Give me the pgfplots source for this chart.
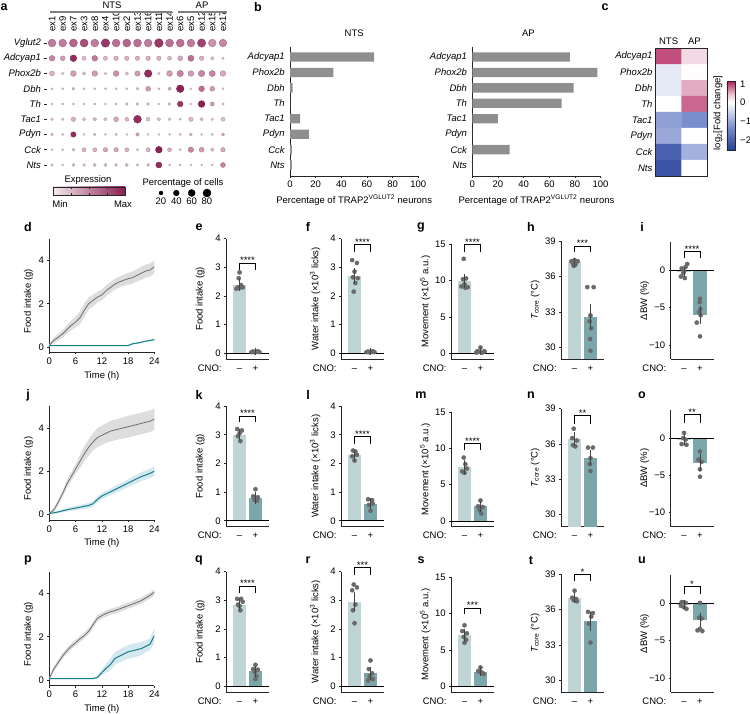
\documentclass[border=0pt]{standalone}
\usepackage{fontspec}
\setmainfont{Liberation Sans}
\usepackage{pgfplots}
\pgfplotsset{compat=1.18}
\usepackage{pgfplotstable}

\newcommand{\fs}{\fontsize{9.5}{11}\selectfont}
\newcommand{\lett}{\fontsize{12.5}{13}\selectfont\bfseries}

\definecolor{negc}{HTML}{BED4D5}
\definecolor{posc}{HTML}{7BA7AA}
\definecolor{dotc}{HTML}{6A6A6A}
\definecolor{errc}{HTML}{444444}
\definecolor{linegray}{HTML}{6E6E6E}
\definecolor{bandgray}{HTML}{DDDDDD}
\definecolor{tealc}{HTML}{15808A}
\definecolor{bandblue}{HTML}{D5E8EF}
\definecolor{bargray}{HTML}{8F8F8F}
\definecolor{brgray}{HTML}{808080}
\definecolor{expLow}{HTML}{F3ECEF}
\definecolor{expHigh}{HTML}{8B1E50}

\pgfplotsset{
 base/.style={scale only axis, clip mode=individual, axis x line*=bottom, axis y line*=left,
   axis line style={black!85, line width=0.65pt}, tick style={black!85, line width=0.55pt},
   major tick length=2pt, tick align=outside, tick label style={font=\fs}, label style={font=\fs},
   /pgf/number format/assume math mode=true},
 bp/.style={base, anchor=south west, width=43pt, xmin=0.15, xmax=2.85, xtick={1,2}, xticklabels={--,+},
   xtick style={draw=none}, xticklabel style={text height=0.72em, text depth=0.2em},
   ylabel style={at={(axis description cs:-0.6,0.5)}, anchor=center}},
 negbar/.style={ybar, bar width=13.3pt, bar shift=0pt, fill=negc, draw=none},
 posbar/.style={ybar, bar width=13.3pt, bar shift=0pt, fill=posc, draw=none},
 dots/.style={only marks, mark=*, mark size=2.1pt, color=dotc},
 err/.style={mark=none, draw=none, error bars/.cd, y dir=both, y explicit,
   error bar style={draw=errc, line width=0.6pt}, error mark options={draw=errc, mark size=3.3pt, line width=0.6pt}},
 lp/.style={base, anchor=south west, width=105pt, height=113.9pt, xmin=0, xmax=24, ymin=-0.25, ymax=5,
   xtick={0,6,12,18,24}, ytick={0,2,4}, xlabel={Time (h)}, ylabel={Food intake (g)},
   ylabel style={at={(axis description cs:-0.2,0.45)}, anchor=center}},
 bpan/.style={base, anchor=south west, width=128.3pt, height=129pt, xmin=0, xmax=100, ymin=0.29, ymax=8.648,
   xtick={0,20,...,100}, ytick={1,...,8}, yticklabels={Nts,Cck,Pdyn,Tac1,Th,Dbh,Phox2b,Adcyap1},
   yticklabel style={font=\fs\itshape}, ytick style={draw=none},
   xlabel={Percentage of TRAP2\textsuperscript{VGLUT2} neurons}},
 hbar/.style={xbar, bar width=9.3pt, bar shift=0pt, fill=bargray, draw=none},
 gband/.style={fill=bandgray, draw=none},
 cband/.style={fill=bandblue, draw=none},
 gline/.style={linegray, line width=0.8pt},
 cline/.style={tealc, line width=1pt}
}

\newcommand{\sig}[3]{\draw[black, line width=0.6pt] (axis cs:1,#1) |- (axis cs:2,#2) -- (axis cs:2,#1);
  \node[anchor=base, inner sep=0pt, font=\fs, yshift=-1pt] at (axis cs:1.5,#2) {#3};}
\newcommand{\cno}{\node[anchor=north east, font=\fs, text height=0.72em, text depth=0.2em, inner sep=0.333em, xshift=-1pt, yshift=-2pt] at (rel axis cs:0,0) {CNO:};}
\newcommand{\zline}{\draw[black, line width=0.6pt] (axis cs:0.15,0) -- (axis cs:2.85,0);}

\pgfplotstableread{
x y p c
1 1 75 0.55
2 1 75 0.55
3 1 80 0.65
4 1 80 0.75
5 1 75 0.55
6 1 88 0.85
7 1 75 0.60
8 1 78 0.65
9 1 78 0.60
10 1 75 0.55
11 1 92 0.85
12 1 78 0.60
13 1 78 0.60
14 1 75 0.55
15 1 85 0.80
16 1 72 0.45
17 1 72 0.50
1 2 40 0.50
2 2 30 0.40
3 2 55 0.90
4 2 20 0.25
5 2 40 0.55
6 2 22 0.25
7 2 25 0.30
8 2 25 0.30
9 2 25 0.30
10 2 25 0.30
11 2 25 0.30
12 2 20 0.25
13 2 30 0.35
14 2 45 0.60
15 2 25 0.30
16 2 15 0.20
17 2 8 0.10
1 3 30 0.30
2 3 10 0.15
3 3 40 0.40
4 3 15 0.20
5 3 40 0.40
6 3 10 0.10
7 3 40 0.45
8 3 15 0.20
9 3 35 0.40
10 3 70 0.90
11 3 8 0.10
12 3 40 0.40
13 3 50 0.50
14 3 40 0.40
15 3 50 0.50
16 3 45 0.50
17 3 40 0.35
1 4 5 0.10
2 4 5 0.10
3 4 10 0.20
4 4 6 0.10
5 4 6 0.10
6 4 6 0.10
7 4 6 0.10
8 4 6 0.10
9 4 10 0.15
10 4 30 0.40
11 4 6 0.10
12 4 15 0.30
13 4 70 0.95
14 4 5 0.10
15 4 40 0.60
16 4 30 0.40
17 4 6 0.10
1 5 5 0.10
2 5 5 0.10
3 5 6 0.10
4 5 5 0.10
5 5 5 0.10
6 5 5 0.10
7 5 8 0.15
8 5 10 0.20
9 5 8 0.15
10 5 10 0.20
11 5 5 0.10
12 5 8 0.15
13 5 40 0.85
14 5 5 0.10
15 5 55 0.95
16 5 20 0.40
17 5 8 0.15
1 6 10 0.15
2 6 8 0.10
3 6 25 0.30
4 6 15 0.20
5 6 15 0.20
6 6 15 0.20
7 6 30 0.35
8 6 20 0.25
9 6 75 0.90
10 6 20 0.20
11 6 15 0.20
12 6 10 0.15
13 6 5 0.10
14 6 25 0.25
15 6 15 0.20
16 6 10 0.10
17 6 20 0.20
1 7 8 0.15
2 7 5 0.10
3 7 35 0.90
4 7 5 0.10
5 7 8 0.15
6 7 5 0.10
7 7 8 0.15
8 7 5 0.10
9 7 15 0.35
10 7 5 0.10
11 7 5 0.10
12 7 5 0.10
13 7 5 0.10
14 7 10 0.25
15 7 5 0.10
16 7 5 0.10
17 7 12 0.30
1 8 5 0.10
2 8 5 0.10
3 8 12 0.20
4 8 20 0.30
5 8 20 0.30
6 8 25 0.35
7 8 25 0.35
8 8 20 0.30
9 8 5 0.10
10 8 20 0.30
11 8 55 0.95
12 8 20 0.30
13 8 5 0.10
14 8 35 0.50
15 8 30 0.40
16 8 15 0.20
17 8 25 0.35
1 9 10 0.15
2 9 5 0.10
3 9 12 0.20
4 9 10 0.15
5 9 12 0.20
6 9 12 0.20
7 9 12 0.20
8 9 12 0.20
9 9 10 0.15
10 9 12 0.20
11 9 45 0.90
12 9 5 0.10
13 9 5 0.10
14 9 5 0.10
15 9 5 0.10
16 9 5 0.10
17 9 30 0.50
}\dottab

\pgfplotstableread{
t g c
0 0.08 0.07
1 0.30 0.07
2 0.45 0.07
3 0.60 0.07
4 0.80 0.07
5 1.00 0.07
6 1.15 0.07
7 1.35 0.07
8 1.70 0.07
9 2.00 0.07
10 2.15 0.07
11 2.30 0.07
12 2.40 0.07
13 2.60 0.07
14 2.75 0.07
15 2.90 0.07
16 3.00 0.07
17 3.08 0.07
18 3.15 0.07
19 3.20 0.15
20 3.30 0.18
21 3.40 0.22
22 3.50 0.27
23 3.55 0.30
24 3.70 0.35
}\dtab

\pgfplotstableread{
t g c
0 0.05 0.05
1 0.20 0.08
2 0.55 0.12
3 0.95 0.17
4 1.40 0.22
5 1.75 0.26
6 2.10 0.30
7 2.45 0.34
8 2.80 0.38
9 3.10 0.42
10 3.35 0.50
11 3.55 0.70
12 3.65 0.85
13 3.75 0.95
14 3.85 1.05
15 3.90 1.15
16 3.95 1.25
17 4.00 1.35
18 4.05 1.45
19 4.10 1.55
20 4.15 1.65
21 4.20 1.75
22 4.25 1.82
23 4.30 1.90
24 4.40 2.00
}\jtab

\pgfplotstableread{
t g c
0 0.08 0.07
1 0.50 0.07
2 0.80 0.07
3 1.10 0.07
4 1.35 0.07
5 1.55 0.07
6 1.72 0.07
7 1.90 0.07
8 2.05 0.07
9 2.25 0.07
10 2.55 0.07
11 2.85 0.12
12 2.97 0.35
13 3.07 0.55
14 3.15 0.72
15 3.20 1.00
16 3.28 1.10
17 3.35 1.20
18 3.43 1.30
19 3.50 1.35
20 3.58 1.40
21 3.66 1.45
22 3.78 1.55
23 3.90 1.65
24 4.05 2.05
}\ptab

\begin{document}
\fs
\begin{tikzpicture}
\useasboundingbox (0,0) rectangle (750pt,713pt);

% ---------------- panel letters
\foreach \l/\x/\y in {a/4/7,b/258/7,c/605/7,d/28/227,e/199/227,f/308/227,g/421/227,h/531/227,i/642/227,
  j/28/395,k/199/395,l/308/395,m/421/395,n/531/395,o/642/395,
  p/28/560,q/199/560,r/308/560,s/421/560,t/531/560,u/642/560}
  \node[font=\lett] at (\x pt, 713pt-\y pt) {\l};

% ---------------- panel a
\begin{axis}[scale only axis, at={(46.7pt,713pt-172.6pt)}, anchor=south west, width=181.6pt, height=137.2pt,
  xmin=0.5, xmax=17.5, ymin=0.5, ymax=9.5, y dir=reverse, clip=false,
  axis line style={draw=none}, xtick={1,...,17},
  xticklabels={ex1,ex9,ex7,ex3,ex8,ex4,ex10,ex2,ex13,ex16,ex11,ex14,ex6,ex5,ex12,ex15,ex17},
  xticklabel pos=top, xticklabel style={rotate=90, anchor=west, font=\fs, inner sep=1pt}, xtick style={draw=none},
  ytick={1,...,9}, yticklabels={Vglut2,Adcyap1,Phox2b,Dbh,Th,Tac1,Pdyn,Cck,Nts}, ytick pos=left,
  yticklabel style={font=\fs\itshape}, ytick style={black!85, line width=0.5pt}, major tick length=2.5pt, tick align=outside,
  colormap={dotmap}{rgb255=(234,222,228) rgb255=(218,172,194) rgb255=(180,96,137) rgb255=(135,22,75)},
  point meta min=0, point meta max=1]
 \addplot[scatter, only marks, mark=*, point meta=explicit,
   visualization depends on={0.45*sqrt(\thisrow{p}) \as \msize},
   scatter/@pre marker code/.append style={/tikz/mark size=\msize pt}]
   table[x=x, y=y, meta=c]{\dottab};
\end{axis}
\draw[brgray, line width=1.6pt] (50pt,701pt) -- (172pt,701pt);
\draw[brgray, line width=1.6pt] (178pt,701pt) -- (227pt,701pt);
\node at (112pt,708pt) {NTS};
\node at (202pt,708pt) {AP};
% expression bar
\shade[left color=expLow, right color=expHigh] (53pt,518pt) rectangle (125pt,526pt);
\draw[black!85, line width=0.6pt] (53pt,518pt) rectangle (125pt,526pt);
\foreach \xx in {71,89,107} {\draw[black!85, line width=0.5pt] (\xx pt,518pt) -- (\xx pt,520pt); \draw[black!85, line width=0.5pt] (\xx pt,524pt) -- (\xx pt,526pt);}
\node at (88pt,713pt-180pt) {Expression};
\node at (60pt,713pt-204pt) {Min};
\node at (123pt,713pt-204pt) {Max};
\node at (183pt,713pt-183pt) {Percentage of cells};
\begin{axis}[scale only axis, at={(161pt,713pt-194pt)}, anchor=south west, width=46pt, height=2pt,
  xmin=20, xmax=80, ymin=-1, ymax=1, clip=false, axis line style={draw=none}, tick style={draw=none},
  xtick={20,40,60,80}, ytick=\empty, xticklabel style={font=\fs, yshift=-1pt}, /pgf/number format/assume math mode=true]
 \addplot[only marks, mark=*, black, mark size=2.0pt] coordinates {(20,0)};
 \addplot[only marks, mark=*, black, mark size=2.85pt] coordinates {(40,0)};
 \addplot[only marks, mark=*, black, mark size=3.5pt] coordinates {(60,0)};
 \addplot[only marks, mark=*, black, mark size=4.0pt] coordinates {(80,0)};
\end{axis}

% ---------------- panel b
\begin{axis}[bpan, at={(290pt,713pt-176pt)}]
 \addplot[hbar] coordinates {(65.5,8) (33.8,7) (2,6) (0,5) (7.8,4) (14.8,3) (1.5,2) (1.5,1)};
 \node at (rel axis cs:0.5,1) [yshift=14pt] {NTS};
\end{axis}
\begin{axis}[bpan, at={(472.3pt,713pt-176pt)}]
 \addplot[hbar] coordinates {(76,8) (97.5,7) (79,6) (69.6,5) (20,4) (0,3) (29,2) (0,1)};
 \node at (rel axis cs:0.5,1) [yshift=14pt, xshift=-8pt] {AP};
\end{axis}

% ---------------- panel c
\begin{axis}[scale only axis, at={(655.7pt,713pt-176pt)}, anchor=south west, width=51.6pt, height=127.7pt,
  xmin=-0.5, xmax=1.5, ymin=-0.5, ymax=7.5, y dir=reverse,
  xtick={0,1}, xticklabels={NTS,AP}, xticklabel pos=top, ytick={0,...,7},
  yticklabels={Adcyap1,Phox2b,Dbh,Th,Tac1,Pdyn,Cck,Nts}, yticklabel style={font=\fs\itshape},
  xticklabel style={font=\fs}, tick style={draw=none}, axis line style={black!85, line width=0.6pt},
  colormap={fc}{rgb255(0cm)=(35,60,150) rgb255(1.27cm)=(122,142,206) rgb255(2.57cm)=(255,255,255) rgb255(3.0cm)=(238,200,215) rgb255(3.73cm)=(178,30,90)},
  point meta min=-2.57, point meta max=1.16,
  colorbar, colorbar style={at={(parent axis.north east)}, anchor=north west, xshift=11pt, yshift=-32.7pt,
    width=8pt, height=69.7pt, scale only axis, ytick={-2,-1,0,1}, yticklabels={−2,−1,0,1},
    yticklabel style={font=\fs}, axis line style={black!85, line width=0.6pt},
    ytick style={black!85}, major tick length=2pt, tick align=outside}]
 \addplot[matrix plot, mesh/cols=2, point meta=explicit, faceted color=black!40, line width=0.4pt]
  table[x=x, y=y, meta=c]{
x y c
0 0 0.95
1 0 0.30
0 1 -0.25
1 1 0.02
0 2 -0.25
1 2 0.55
0 3 0.0
1 3 0.85
0 4 -1.1
1 4 -1.3
0 5 -1.0
1 5 0.0
0 6 -2.0
1 6 -0.9
0 7 -2.2
1 7 0.0
};
\end{axis}
\node[rotate=90] at (718pt,713pt-113pt) {log\textsubscript{2}[Fold change]};

% ================= ROW 1
\begin{axis}[lp, at={(49.3pt,713pt-352.5pt)}]
 \addplot[gband] coordinates {(0,0.14)(1,0.42)(2,0.60)(3,0.78)(4,1.00)(5,1.22)(6,1.40)(7,1.65)(8,2.02)(9,2.28)(10,2.42)(11,2.55)(12,2.65)(13,2.85)(14,3.00)(15,3.15)(16,3.25)(17,3.34)(18,3.42)(19,3.48)(20,3.58)(21,3.70)(22,3.80)(23,3.85)(24,4.00)
   (24,3.40)(23,3.25)(22,3.20)(21,3.10)(20,3.02)(19,2.92)(18,2.88)(17,2.82)(16,2.75)(15,2.65)(14,2.50)(13,2.35)(12,2.15)(11,2.05)(10,1.88)(9,1.72)(8,1.38)(7,1.05)(6,0.90)(5,0.78)(4,0.60)(3,0.42)(2,0.30)(1,0.18)(0,0.02)};
 \addplot[cband] coordinates {(0,0.10)(18,0.10)(19,0.19)(20,0.22)(21,0.26)(22,0.31)(23,0.34)(24,0.39)(24,0.31)(23,0.26)(22,0.23)(21,0.18)(20,0.14)(19,0.11)(18,0.04)(0,0.04)};
 \addplot[gline] table[x=t,y=g]{\dtab};
 \addplot[cline] table[x=t,y=c]{\dtab};
\end{axis}

\begin{axis}[bp, at={(226pt,713pt-359pt)}, ymin=-0.2, ymax=4, height=120.4pt, ytick={0,1,2,3,4}, ylabel={Food intake (g)}]
 \addplot[negbar] coordinates {(1,2.38)};
 \addplot[posbar] coordinates {(2,0.05)};
 \zline
 \addplot[dots] coordinates {(0.8,2.25) (0.9,2.3) (1.2,2.3) (1.1,2.38) (1.0,2.28) (0.95,2.62) (1.0,2.82)};
 \addplot[dots] coordinates {(1.75,0.04) (1.85,0.06) (1.95,0.03) (2.05,0.05) (2.15,0.07) (2.25,0.04) (2.0,0.05)};
 \addplot[err] coordinates {(1,2.38) +- (0,0.1) (2,0.05) +- (0,0.01)};
 \sig{2.9}{3.15}{****}
 \cno
\end{axis}

\begin{axis}[bp, at={(341pt,713pt-359pt)}, ymin=-0.2, ymax=4, height=120.4pt, ytick={0,1,2,3,4}, ylabel={Water intake (×10\textsuperscript{3} licks)}]
 \addplot[negbar] coordinates {(1,2.7)};
 \addplot[posbar] coordinates {(2,0.05)};
 \zline
 \addplot[dots] coordinates {(0.85,3.25) (1.15,3.15) (1.0,2.85) (0.9,2.65) (1.2,2.62) (1.05,2.45) (0.95,2.15)};
 \addplot[dots] coordinates {(1.75,0.04) (1.85,0.06) (1.95,0.03) (2.05,0.05) (2.15,0.07) (2.25,0.04) (2.0,0.05)};
 \addplot[err] coordinates {(1,2.7) +- (0,0.15) (2,0.05) +- (0,0.01)};
 \sig{3.54}{3.81}{****}
 \cno
\end{axis}

\begin{axis}[bp, at={(451pt,713pt-359pt)}, ymin=-0.78, ymax=15, height=114.7pt, ytick={0,5,10,15}, ylabel={Movement (×10\textsuperscript{5} a.u.)}]
 \addplot[negbar] coordinates {(1,10.0)};
 \addplot[posbar] coordinates {(2,0.3)};
 \zline
 \addplot[dots] coordinates {(0.95,13.0) (1.1,10.3) (0.9,10.2) (1.0,9.5) (0.8,9.2) (1.2,9.1) (1.05,9.0)};
 \addplot[dots] coordinates {(2.0,0.8) (1.8,0.3) (1.9,0.2) (2.1,0.1) (2.2,0.2) (1.75,0.1) (2.25,0.3)};
 \addplot[err] coordinates {(1,10.0) +- (0,0.5) (2,0.3) +- (0,0.1)};
 \sig{13.9}{15.0}{****}
 \cno
\end{axis}

\begin{axis}[bp, at={(561pt,713pt-359pt)}, ymin=29, ymax=39, height=117.8pt, ytick={30,33,36,39}, ylabel={{\itshape T}\textsubscript{core} (°C)}]
 \addplot[negbar] coordinates {(1,37.2)};
 \addplot[posbar] coordinates {(2,32.6)};
 \addplot[dots] coordinates {(0.8,37.3) (0.9,37.1) (1.0,37.4) (1.1,37.2) (1.2,37.3) (0.95,36.9) (1.05,37.0)};
 \addplot[dots] coordinates {(1.8,35.1) (2.2,35.1) (2.0,32.7) (1.95,32.2) (2.05,31.6) (1.98,30.7) (2.0,29.7)};
 \addplot[err] coordinates {(1,37.2) +- (0,0.12) (2,32.6) +- (0,0.8)};
 \sig{38.1}{38.6}{***}
 \cno
\end{axis}

\begin{axis}[bp, at={(670.5pt,713pt-359pt)}, ymin=-11.9, ymax=3.8, height=116.6pt, ytick={-10,-5,0}, yticklabels={−10,−5,0}, ylabel={ΔBW (\%)}]
 \addplot[negbar] coordinates {(1,-0.2)};
 \addplot[posbar] coordinates {(2,-6.0)};
 \zline
 \addplot[dots] coordinates {(0.85,0.3) (1.1,0.5) (1.2,0.9) (0.95,-0.35) (0.8,-0.8) (1.05,-1.0) (1.0,-0.1)};
 \addplot[dots] coordinates {(2.0,-3.8) (1.98,-4.25) (2.02,-5.2) (1.95,-5.6) (2.05,-6.0) (1.8,-7.0) (2.0,-8.85)};
 \addplot[err] coordinates {(1,-0.2) +- (0,0.2) (2,-6.0) +- (0,0.8)};
 \sig{1.67}{2.56}{****}
 \cno
\end{axis}

% ================= ROW 2
\begin{axis}[lp, at={(49.3pt,713pt-520pt)}]
 \addplot[gband] coordinates {(0,0.10)(1,0.30)(2,0.68)(3,1.10)(4,1.58)(5,1.95)(6,2.32)(7,2.75)(8,3.15)(9,3.48)(10,3.75)(11,3.98)(12,4.10)(13,4.20)(14,4.32)(15,4.38)(16,4.43)(17,4.48)(18,4.55)(19,4.60)(20,4.65)(21,4.70)(22,4.75)(23,4.80)(24,4.90)
   (24,3.90)(23,3.80)(22,3.75)(21,3.70)(20,3.65)(19,3.60)(18,3.55)(17,3.52)(16,3.47)(15,3.42)(14,3.38)(13,3.30)(12,3.20)(11,3.12)(10,2.95)(9,2.72)(8,2.45)(7,2.15)(6,1.88)(5,1.55)(4,1.22)(3,0.80)(2,0.42)(1,0.10)(0,0.00)};
 \addplot[cband] coordinates {(0,0.08)(1,0.13)(2,0.18)(3,0.24)(4,0.30)(5,0.35)(6,0.40)(7,0.44)(8,0.49)(9,0.54)(10,0.63)(11,0.84)(12,1.00)(13,1.10)(14,1.20)(15,1.32)(16,1.42)(17,1.52)(18,1.63)(19,1.74)(20,1.85)(21,1.95)(22,2.03)(23,2.12)(24,2.22)
   (24,1.78)(23,1.68)(22,1.61)(21,1.55)(20,1.45)(19,1.36)(18,1.27)(17,1.18)(16,1.08)(15,0.98)(14,0.90)(13,0.80)(12,0.70)(11,0.56)(10,0.37)(9,0.30)(8,0.27)(7,0.24)(6,0.20)(5,0.17)(4,0.14)(3,0.10)(2,0.06)(1,0.03)(0,0.02)};
 \addplot[gline] table[x=t,y=g]{\jtab};
 \addplot[cline] table[x=t,y=c]{\jtab};
\end{axis}

\begin{axis}[bp, at={(226pt,713pt-526.5pt)}, ymin=-0.2, ymax=4, height=120.4pt, ytick={0,1,2,3,4}, ylabel={Food intake (g)}]
 \addplot[negbar] coordinates {(1,3.0)};
 \addplot[posbar] coordinates {(2,0.8)};
 \zline
 \addplot[dots] coordinates {(0.85,3.2) (1.15,3.15) (1.0,3.05) (0.9,2.95) (1.05,2.78)};
 \addplot[dots] coordinates {(2.0,1.1) (1.85,0.85) (2.15,0.82) (1.95,0.72) (2.1,0.7)};
 \addplot[err] coordinates {(1,3.0) +- (0,0.08) (2,0.8) +- (0,0.1)};
 \sig{3.43}{3.66}{****}
 \cno
\end{axis}

\begin{axis}[bp, at={(341pt,713pt-526.5pt)}, ymin=-0.2, ymax=4, height=120.4pt, ytick={0,1,2,3,4}, ylabel={Water intake (×10\textsuperscript{3} licks)}]
 \addplot[negbar] coordinates {(1,2.28)};
 \addplot[posbar] coordinates {(2,0.6)};
 \zline
 \addplot[dots] coordinates {(0.9,2.45) (1.05,2.42) (1.15,2.3) (0.85,2.25) (1.0,2.1)};
 \addplot[dots] coordinates {(1.85,0.75) (2.1,0.72) (2.15,0.6) (1.9,0.55) (2.0,0.35)};
 \addplot[err] coordinates {(1,2.28) +- (0,0.08) (2,0.6) +- (0,0.07)};
 \sig{2.67}{2.95}{****}
 \cno
\end{axis}

\begin{axis}[bp, at={(451pt,713pt-526.5pt)}, ymin=-0.78, ymax=15, height=114.7pt, ytick={0,5,10,15}, ylabel={Movement (×10\textsuperscript{5} a.u.)}]
 \addplot[negbar] coordinates {(1,7.4)};
 \addplot[posbar] coordinates {(2,2.0)};
 \zline
 \addplot[dots] coordinates {(0.95,8.7) (1.05,7.8) (1.15,7.2) (0.85,6.8) (1.0,6.6)};
 \addplot[dots] coordinates {(2.0,2.8) (1.85,2.0) (2.15,1.9) (1.95,1.5) (2.05,1.0)};
 \addplot[err] coordinates {(1,7.4) +- (0,0.45) (2,2.0) +- (0,0.3)};
 \sig{9.8}{10.7}{****}
 \cno
\end{axis}

\begin{axis}[bp, at={(561pt,713pt-526.5pt)}, ymin=29, ymax=39, height=117.8pt, ytick={30,33,36,39}, ylabel={{\itshape T}\textsubscript{core} (°C)}]
 \addplot[negbar] coordinates {(1,36.4)};
 \addplot[posbar] coordinates {(2,34.8)};
 \addplot[dots] coordinates {(0.95,37.3) (0.85,36.5) (1.15,36.3) (1.05,35.8) (0.9,35.9)};
 \addplot[dots] coordinates {(1.85,35.7) (2.15,35.7) (2.0,34.8) (1.95,34.3) (2.0,33.7)};
 \addplot[err] coordinates {(1,36.4) +- (0,0.3) (2,34.8) +- (0,0.4)};
 \sig{37.7}{38.4}{**}
 \cno
\end{axis}

\begin{axis}[bp, at={(670.5pt,713pt-526.5pt)}, ymin=-11.9, ymax=3.8, height=116.6pt, ytick={-10,-5,0}, yticklabels={−10,−5,0}, ylabel={ΔBW (\%)}]
 \addplot[negbar] coordinates {(1,-0.2)};
 \addplot[posbar] coordinates {(2,-3.3)};
 \zline
 \addplot[dots] coordinates {(1.0,0.7) (0.95,0.0) (1.1,-0.2) (0.85,-0.8) (1.15,-0.9)};
 \addplot[dots] coordinates {(2.0,-1.8) (1.9,-2.9) (2.1,-3.2) (2.0,-4.2) (2.0,-5.2)};
 \addplot[err] coordinates {(1,-0.2) +- (0,0.3) (2,-3.3) +- (0,0.7)};
 \sig{2.0}{3.15}{**}
 \cno
\end{axis}

% ================= ROW 3
\begin{axis}[lp, at={(49.3pt,713pt-685.5pt)}]
 \addplot[gband] coordinates {(0,0.14)(1,0.62)(2,0.92)(3,1.23)(4,1.48)(5,1.68)(6,1.86)(7,2.04)(8,2.19)(9,2.39)(10,2.69)(11,2.99)(12,3.11)(13,3.21)(14,3.29)(15,3.34)(16,3.42)(17,3.49)(18,3.57)(19,3.64)(20,3.72)(21,3.80)(22,3.92)(23,4.04)(24,4.19)
   (24,3.91)(23,3.76)(22,3.64)(21,3.52)(20,3.44)(19,3.36)(18,3.29)(17,3.21)(16,3.14)(15,3.06)(14,3.01)(13,2.93)(12,2.83)(11,2.71)(10,2.41)(9,2.11)(8,1.91)(7,1.76)(6,1.58)(5,1.42)(4,1.22)(3,0.97)(2,0.68)(1,0.38)(0,0.02)};
 \addplot[cband] coordinates {(0,0.10)(10,0.10)(11,0.18)(12,0.48)(13,0.75)(14,0.99)(15,1.30)(16,1.40)(17,1.52)(18,1.62)(19,1.67)(20,1.72)(21,1.75)(22,1.83)(23,1.92)(24,2.40)
   (24,1.70)(23,1.38)(22,1.27)(21,1.15)(20,1.08)(19,1.03)(18,0.98)(17,0.88)(16,0.80)(15,0.70)(14,0.45)(13,0.35)(12,0.22)(11,0.06)(10,0.04)(0,0.04)};
 \addplot[gline] table[x=t,y=g]{\ptab};
 \addplot[cline] table[x=t,y=c]{\ptab};
\end{axis}

\begin{axis}[bp, at={(226pt,713pt-692pt)}, ymin=-0.2, ymax=4, height=120.4pt, ytick={0,1,2,3,4}, ylabel={Food intake (g)}]
 \addplot[negbar] coordinates {(1,2.85)};
 \addplot[posbar] coordinates {(2,0.52)};
 \zline
 \addplot[dots] coordinates {(0.85,3.05) (1.1,3.05) (1.2,2.95) (0.9,2.85) (1.0,2.8) (1.05,2.65)};
 \addplot[dots] coordinates {(2.0,0.75) (1.85,0.6) (2.15,0.58) (1.95,0.5) (2.05,0.35) (2.0,0.25)};
 \addplot[err] coordinates {(1,2.85) +- (0,0.07) (2,0.52) +- (0,0.08)};
 \sig{3.27}{3.5}{****}
 \cno
\end{axis}

\begin{axis}[bp, at={(341pt,713pt-692pt)}, ymin=-0.2, ymax=4, height=120.4pt, ytick={0,1,2,3,4}, ylabel={Water intake (×10\textsuperscript{3} licks)}]
 \addplot[negbar] coordinates {(1,2.95)};
 \addplot[posbar] coordinates {(2,0.45)};
 \zline
 \addplot[dots] coordinates {(0.95,3.55) (1.15,3.45) (0.85,3.35) (1.05,2.85) (0.9,2.65) (1.0,2.2)};
 \addplot[dots] coordinates {(2.0,0.9) (1.9,0.6) (2.1,0.45) (1.95,0.35) (2.15,0.25) (1.85,0.2)};
 \addplot[err] coordinates {(1,2.95) +- (0,0.22) (2,0.45) +- (0,0.1)};
 \sig{3.88}{4.15}{***}
 \cno
\end{axis}

\begin{axis}[bp, at={(451pt,713pt-692pt)}, ymin=-0.78, ymax=15, height=114.7pt, ytick={0,5,10,15}, ylabel={Movement (×10\textsuperscript{5} a.u.)}]
 \addplot[negbar] coordinates {(1,7.0)};
 \addplot[posbar] coordinates {(2,2.0)};
 \zline
 \addplot[dots] coordinates {(1.0,8.4) (0.85,7.6) (1.15,7.3) (0.95,6.8) (1.1,6.4) (1.0,6.0)};
 \addplot[dots] coordinates {(2.0,2.6) (1.85,2.1) (1.95,2.0) (2.05,1.95) (2.15,1.8) (2.2,1.7)};
 \addplot[err] coordinates {(1,7.0) +- (0,0.4) (2,2.0) +- (0,0.15)};
 \sig{9.9}{10.8}{***}
 \cno
\end{axis}

\begin{axis}[bp, at={(561pt,713pt-692pt)}, ymin=29, ymax=39, height=117.8pt, ytick={30,33,36,39}, ylabel={{\itshape T}\textsubscript{core} (°C)}]
 \addplot[negbar] coordinates {(1,37.0)};
 \addplot[posbar] coordinates {(2,35.0)};
 \addplot[dots] coordinates {(1.0,37.6) (0.85,37.0) (0.95,36.8) (1.1,36.9) (1.15,36.7)};
 \addplot[dots] coordinates {(1.85,35.8) (2.15,35.7) (2.05,35.4) (1.9,34.8) (2.0,33.2)};
 \addplot[err] coordinates {(1,37.0) +- (0,0.15) (2,35.0) +- (0,0.5)};
 \sig{38.4}{39.0}{*}
 \cno
\end{axis}

\begin{axis}[bp, at={(670.5pt,713pt-692pt)}, ymin=-11.9, ymax=3.8, height=116.6pt, ytick={-10,-5,0}, yticklabels={−10,−5,0}, ylabel={ΔBW (\%)}]
 \addplot[negbar] coordinates {(1,-0.1)};
 \addplot[posbar] coordinates {(2,-2.2)};
 \zline
 \addplot[dots] coordinates {(0.85,0.2) (0.95,0.2) (1.1,0.1) (0.8,-0.3) (1.0,-0.5) (1.15,-0.7)};
 \addplot[dots] coordinates {(2.0,0.1) (1.95,-1.9) (2.1,-2.0) (1.85,-3.6) (2.15,-3.7) (2.0,-3.4)};
 \addplot[err] coordinates {(1,-0.1) +- (0,0.2) (2,-2.2) +- (0,0.5)};
 \sig{1.35}{2.3}{*}
 \cno
\end{axis}

\end{tikzpicture}
\end{document}
